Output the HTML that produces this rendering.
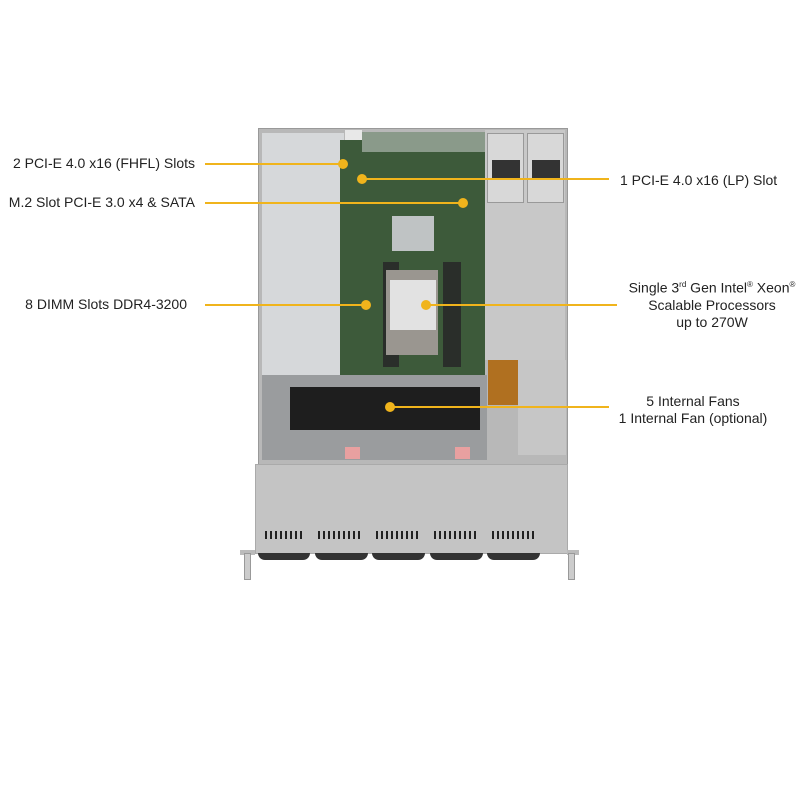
<!DOCTYPE html>
<html><head><meta charset="utf-8"><style>
body{margin:0;width:800px;height:800px;background:#fff;position:relative;overflow:hidden;font-family:"Liberation Sans",Arial,sans-serif;color:#222}
div{position:absolute;box-sizing:border-box}
.t{font-size:14px;white-space:nowrap;line-height:17px}
.l{height:2px;background:#f0b41c}
.d{width:10px;height:10px;border-radius:50%;background:#f0b41c}
sup{font-size:8px}
.v{width:2px;height:8px;background:#222}
</style></head><body>
<!-- chassis -->
<div style="left:258px;top:128px;width:310px;height:340px;background:#b8b8b8;border:1px solid #999"></div>
<div style="left:262px;top:133px;width:82px;height:290px;background:#d6d8da"></div>
<div style="left:345px;top:130px;width:17px;height:138px;background:#e8e8e8"></div>
<div style="left:340px;top:140px;width:145px;height:235px;background:#3d5a3a"></div>
<div style="left:362px;top:132px;width:123px;height:20px;background:#8a9a8a"></div>
<div style="left:392px;top:216px;width:42px;height:35px;background:#bfc3c4"></div>
<div style="left:383px;top:262px;width:16px;height:105px;background:#2a2e2a"></div>
<div style="left:443px;top:262px;width:18px;height:105px;background:#2a2e2a"></div>
<div style="left:386px;top:270px;width:52px;height:85px;background:#9a9690"></div>
<div style="left:390px;top:280px;width:46px;height:50px;background:#e2e2e2"></div>
<div style="left:485px;top:130px;width:80px;height:230px;background:#c8c8c8"></div>
<div style="left:487px;top:133px;width:37px;height:70px;background:#d8d8d8;border:1px solid #999"></div>
<div style="left:527px;top:133px;width:37px;height:70px;background:#d8d8d8;border:1px solid #999"></div>
<div style="left:492px;top:160px;width:28px;height:18px;background:#333"></div>
<div style="left:532px;top:160px;width:28px;height:18px;background:#333"></div>
<div style="left:488px;top:360px;width:30px;height:45px;background:#b07020"></div>
<div style="left:518px;top:360px;width:48px;height:95px;background:#c6c6c6"></div>
<div style="left:262px;top:375px;width:225px;height:85px;background:#9a9c9e"></div>
<div style="left:290px;top:387px;width:190px;height:43px;background:#1e1e1e"></div>
<div style="left:345px;top:447px;width:15px;height:12px;background:#e8a0a0"></div>
<div style="left:455px;top:447px;width:15px;height:12px;background:#e8a0a0"></div>
<!-- front panel -->
<div style="left:255px;top:464px;width:313px;height:90px;background:#c4c4c4;border:1px solid #aaa"></div>
<div style="left:265px;top:531px;width:40px;height:8px;background:repeating-linear-gradient(90deg,#222 0 2px,transparent 2px 5px)"></div>
<div style="left:318px;top:531px;width:42px;height:8px;background:repeating-linear-gradient(90deg,#222 0 2px,transparent 2px 5px)"></div>
<div style="left:376px;top:531px;width:42px;height:8px;background:repeating-linear-gradient(90deg,#222 0 2px,transparent 2px 5px)"></div>
<div style="left:434px;top:531px;width:42px;height:8px;background:repeating-linear-gradient(90deg,#222 0 2px,transparent 2px 5px)"></div>
<div style="left:492px;top:531px;width:42px;height:8px;background:repeating-linear-gradient(90deg,#222 0 2px,transparent 2px 5px)"></div>
<div style="left:258px;top:553px;width:52px;height:7px;background:#333;border-radius:0 0 20px 20px"></div>
<div style="left:315px;top:553px;width:53px;height:7px;background:#333;border-radius:0 0 20px 20px"></div>
<div style="left:372px;top:553px;width:53px;height:7px;background:#333;border-radius:0 0 20px 20px"></div>
<div style="left:430px;top:553px;width:53px;height:7px;background:#333;border-radius:0 0 20px 20px"></div>
<div style="left:487px;top:553px;width:53px;height:7px;background:#333;border-radius:0 0 20px 20px"></div>
<div style="left:240px;top:550px;width:15px;height:5px;background:#bbb"></div>
<div style="left:244px;top:553px;width:7px;height:27px;background:#ccc;border:1px solid #999"></div>
<div style="left:567px;top:550px;width:12px;height:5px;background:#bbb"></div>
<div style="left:568px;top:553px;width:7px;height:27px;background:#ccc;border:1px solid #999"></div>
<!-- connectors -->
<div class="l" style="left:205px;top:163px;width:138px"></div><div class="d" style="left:338px;top:159px"></div>
<div class="l" style="left:362px;top:178px;width:247px"></div><div class="d" style="left:357px;top:174px"></div>
<div class="l" style="left:205px;top:202px;width:258px"></div><div class="d" style="left:458px;top:198px"></div>
<div class="l" style="left:205px;top:304px;width:161px"></div><div class="d" style="left:361px;top:300px"></div>
<div class="l" style="left:426px;top:304px;width:191px"></div><div class="d" style="left:421px;top:300px"></div>
<div class="l" style="left:390px;top:406px;width:219px"></div><div class="d" style="left:385px;top:402px"></div>
<!-- labels -->
<div class="t" style="right:605px;top:155px">2 PCI-E 4.0 x16 (FHFL) Slots</div>
<div class="t" style="right:605px;top:194px">M.2 Slot PCI-E 3.0 x4 &amp; SATA</div>
<div class="t" style="right:613px;top:296px">8 DIMM Slots DDR4-3200</div>
<div class="t" style="left:620px;top:172px">1 PCI-E 4.0 x16 (LP) Slot</div>
<div class="t" style="left:612px;top:276px;width:200px;text-align:center">Single 3<sup>rd</sup> Gen Intel<sup>®</sup> Xeon<sup>®</sup><br>Scalable Processors<br>up to 270W</div>
<div class="t" style="left:593px;top:393px;width:200px;text-align:center">5 Internal Fans<br>1 Internal Fan (optional)</div>
</body></html>
